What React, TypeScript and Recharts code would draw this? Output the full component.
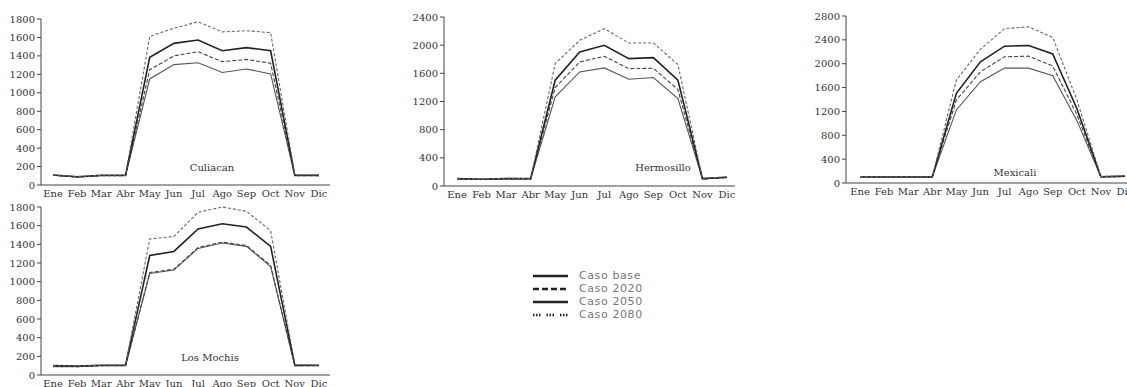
import { LineChart, Line, XAxis, YAxis } from 'recharts'

const meses = ['Ene', 'Feb', 'Mar', 'Abr', 'May', 'Jun', 'Jul', 'Ago', 'Sep', 'Oct', 'Nov', 'Dic']

// Culiacan
const culiacanBase = [105, 85, 100, 100, 1150, 1305, 1325, 1220, 1258, 1205, 100, 100]
const culiacan2020 = [105, 88, 100, 100, 1250, 1400, 1445, 1337, 1362, 1320, 100, 100]
const culiacan2050 = [108, 90, 105, 105, 1385, 1536, 1572, 1456, 1490, 1456, 105, 105]
const culiacan2080 = [110, 92, 105, 105, 1612, 1700, 1770, 1660, 1673, 1652, 110, 110]

// Hermosillo
const hermosilloBase = [100, 95, 100, 100, 1266, 1620, 1677, 1516, 1540, 1242, 100, 120]
const hermosillo2020 = [100, 95, 100, 100, 1398, 1762, 1842, 1667, 1672, 1370, 100, 120]
const hermosillo2050 = [105, 95, 105, 105, 1502, 1904, 1998, 1809, 1823, 1502, 105, 125]
const hermosillo2080 = [105, 95, 110, 105, 1738, 2069, 2234, 2031, 2031, 1724, 110, 130]

// Mexicali
const mexicaliBase = [100, 100, 100, 100, 1225, 1698, 1926, 1926, 1800, 1050, 100, 110]
const mexicali2020 = [100, 100, 100, 100, 1392, 1865, 2116, 2127, 1960, 1150, 100, 110]
const mexicali2050 = [105, 100, 100, 100, 1503, 2032, 2294, 2305, 2165, 1250, 105, 115]
const mexicali2080 = [110, 100, 100, 100, 1726, 2244, 2589, 2617, 2440, 1400, 110, 120]

// Los Mochis
const mochisBase = [90, 90, 100, 100, 1088, 1124, 1356, 1414, 1378, 1163, 100, 100]
const mochis2020 = [95, 90, 100, 100, 1098, 1134, 1366, 1424, 1388, 1173, 100, 100]
const mochis2050 = [100, 95, 105, 105, 1280, 1324, 1564, 1621, 1585, 1378, 105, 105]
const mochis2080 = [100, 95, 105, 105, 1457, 1485, 1743, 1800, 1754, 1546, 110, 105]

const ticks1800 = [0, 200, 400, 600, 800, 1000, 1200, 1400, 1600, 1800]
const ticks2400 = [0, 400, 800, 1200, 1600, 2000, 2400]
const ticks2800 = [0, 400, 800, 1200, 1600, 2000, 2400, 2800]

const casos = [
  { key: 'base', nombre: 'Caso base', color: '#555', ancho: 1.1, dash: undefined, leyendaDash: undefined },
  { key: 'c2020', nombre: 'Caso 2020', color: '#444', ancho: 1.1, dash: '4 2', leyendaDash: '6 3' },
  { key: 'c2050', nombre: 'Caso 2050', color: '#222', ancho: 1.6, dash: undefined, leyendaDash: undefined },
  { key: 'c2080', nombre: 'Caso 2080', color: '#666', ancho: 1.1, dash: '3 2', leyendaDash: '1.5 1.5 1.5 1.5 1.5 6' },
]

const armar = (b: number[], a: number[], c: number[], d: number[]) =>
  meses.map((mes, i) => ({ mes, base: b[i], c2020: a[i], c2050: c[i], c2080: d[i] }))

const fuente = 'DejaVu Serif'

interface PanelProps {
  titulo: string
  data: Record<string, unknown>[]
  ejeX: number
  arriba: number
  abajo: number
  fin: number
  padIzq: number
  padDer: number
  max: number
  ticks: number[]
  tituloX: number
  tituloY: number
}

function Panel({ titulo, data, ejeX, arriba, abajo, fin, padIzq, padDer, max, ticks, tituloX, tituloY }: PanelProps) {
  const izq = ejeX - 40
  const top = arriba - 8
  const ancho = fin - izq + 2
  const alto = abajo - top + 24
  return (
    <>
      <div style={{ position: 'absolute', left: izq, top }}>
        <LineChart width={ancho} height={alto} data={data} margin={{ top: 8, right: 2, left: 0, bottom: 0 }}>
          <XAxis
            dataKey="mes"
            scale="point"
            interval={0}
            padding={{ left: padIzq, right: padDer }}
            height={24}
            tickSize={0}
            tickMargin={5}
            stroke="#444"
            tick={{ fill: '#333', fontSize: 10, fontFamily: fuente }}
          />
          <YAxis
            width={40}
            domain={[0, max]}
            ticks={ticks}
            interval={0}
            tickSize={4}
            tickMargin={2}
            stroke="#444"
            tick={{ fill: '#333', fontSize: 10, fontFamily: fuente }}
          />
          {casos.map((c) => (
            <Line
              key={c.key}
              type="linear"
              dataKey={c.key}
              stroke={c.color}
              strokeWidth={c.ancho}
              strokeDasharray={c.dash}
              dot={false}
              isAnimationActive={false}
            />
          ))}
        </LineChart>
      </div>
      <div
        style={{
          position: 'absolute',
          left: tituloX - 50,
          top: tituloY - 6,
          width: 100,
          textAlign: 'center',
          fontFamily: fuente,
          fontSize: 10,
          color: '#333',
        }}
      >
        {titulo}
      </div>
    </>
  )
}

export default function App() {
  return (
    <div
      style={{
        position: 'absolute',
        left: 0,
        top: 0,
        width: 1127,
        height: 387,
        overflow: 'hidden',
        background: '#fff',
      }}
    >
      <Panel
        titulo="Culiacan"
        data={armar(culiacanBase, culiacan2020, culiacan2050, culiacan2080)}
        ejeX={41}
        arriba={19}
        abajo={185}
        fin={330}
        padIzq={12}
        padDer={11}
        max={1800}
        ticks={ticks1800}
        tituloX={212}
        tituloY={168}
      />
      <Panel
        titulo="Hermosillo"
        data={armar(hermosilloBase, hermosillo2020, hermosillo2050, hermosillo2080)}
        ejeX={444}
        arriba={17}
        abajo={186}
        fin={735}
        padIzq={13}
        padDer={8}
        max={2400}
        ticks={ticks2400}
        tituloX={663}
        tituloY={168}
      />
      <Panel
        titulo="Mexicali"
        data={armar(mexicaliBase, mexicali2020, mexicali2050, mexicali2080)}
        ejeX={846}
        arriba={16}
        abajo={183}
        fin={1135}
        padIzq={14}
        padDer={10}
        max={2800}
        ticks={ticks2800}
        tituloX={1015}
        tituloY={173}
      />
      <Panel
        titulo="Los Mochis"
        data={armar(mochisBase, mochis2020, mochis2050, mochis2080)}
        ejeX={41}
        arriba={207}
        abajo={375}
        fin={330}
        padIzq={12}
        padDer={11}
        max={1800}
        ticks={ticks1800}
        tituloX={210}
        tituloY={358}
      />

      {/* leyenda compartida */}
      <div style={{ position: 'absolute', left: 533, top: 269 }}>
        {casos.map((c) => (
          <div key={c.key} style={{ display: 'flex', alignItems: 'center', height: 13.1 }}>
            <svg width={36} height={8}>
              <line x1={0} y1={4} x2={35} y2={4} stroke="#222" strokeWidth={2.4} strokeDasharray={c.leyendaDash} />
            </svg>
            <span
              style={{
                marginLeft: 10,
                fontFamily: 'DejaVu Sans',
                fontSize: 11,
                letterSpacing: 0.6,
                color: '#777',
                lineHeight: '13px',
              }}
            >
              {c.nombre}
            </span>
          </div>
        ))}
      </div>
    </div>
  )
}
